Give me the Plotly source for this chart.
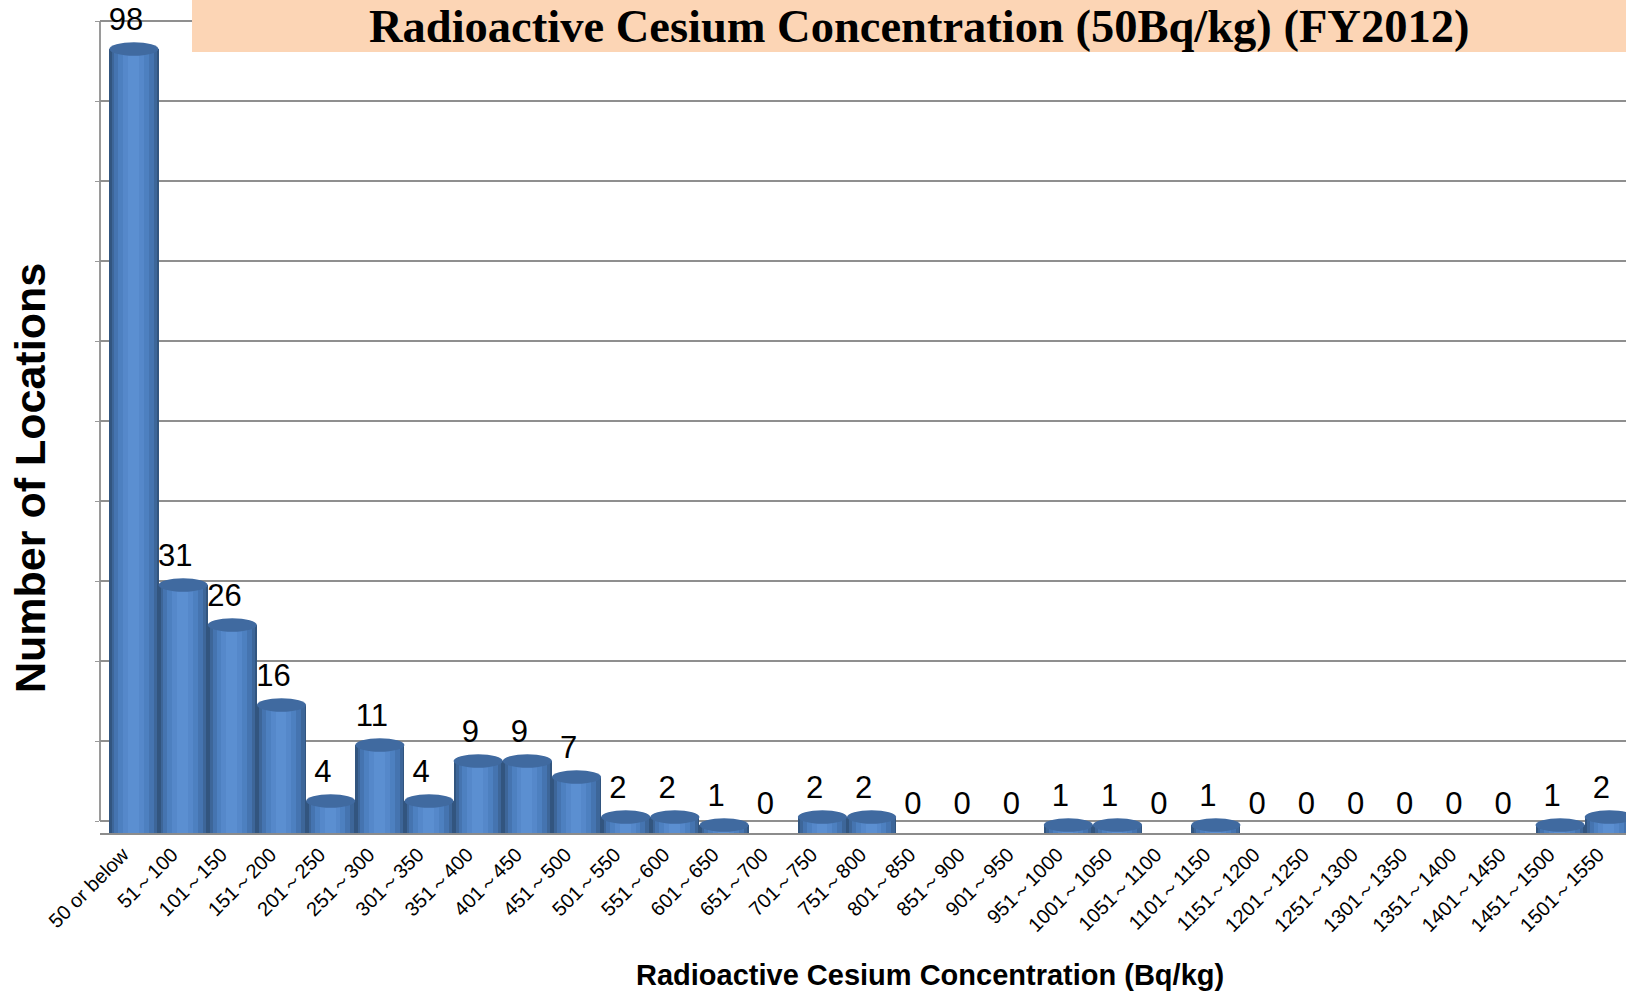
import plotly.graph_objects as go

categories = ["50 or below"] + [f"{a}～{a + 49}" for a in range(51, 1502, 50)]
counts = [98, 31, 26, 16, 4, 11, 4, 9, 9, 7,
          2, 2, 1, 0, 2, 2, 0, 0, 0, 1,
          1, 0, 1, 0, 0, 0, 0, 0, 0, 1,
          2]

title_text = "Radioactive Cesium Concentration (50Bq/kg) (FY2012)"
x_title = "Radioactive Cesium Concentration (Bq/kg)"
y_title = "Number of Locations"

SANS = "Liberation Sans, Arial, sans-serif"
SERIF = "Liberation Serif, Times New Roman, serif"

# the bars sit on a floor 1.5 units in front of / below the back wall
FLOOR = 1.5
SPAN = 104.125
X_RANGE = [-0.69, 30.34]
LABEL_SHIFT = 0.16  # value labels sit slightly left of the bar centres

pos = list(range(len(categories)))

fig = go.Figure()

# cylinder shading: overlaid bars of decreasing width
shades = [
    (1.00, -0.50, "#32557F"),
    (0.92, -0.45, "#3D6699"),
    (0.80, -0.40, "#4574B0"),
    (0.62, -0.32, "#4D80C0"),
    (0.42, -0.22, "#5588CA"),
    (0.22, -0.12, "#5B8FD1"),
]
for w, off, col in shades:
    fig.add_trace(go.Bar(
        x=pos, y=counts, width=w, offset=off,
        marker=dict(color=col, line=dict(width=0)),
        yaxis="y2", hoverinfo="skip", showlegend=False,
    ))

# value labels (on the wall axis: wall value = bar value - FLOOR)
fig.add_trace(go.Scatter(
    x=[p - LABEL_SHIFT for p in pos], y=[v - FLOOR + 3.4 for v in counts], mode="text",
    text=[str(v) for v in counts], textposition="middle center",
    textfont=dict(family=SANS, size=31, color="#000000"),
    yaxis="y", cliponaxis=False, hoverinfo="skip", showlegend=False,
))

shapes = []
# ellipse tops of the cylinders
for i, v in enumerate(counts):
    if v > 0:
        shapes.append(dict(
            type="circle", xref="x", yref="y2",
            x0=i - 0.5, x1=i + 0.5, y0=v - 0.85, y1=v + 0.85,
            fillcolor="#406AA0", line=dict(width=0), layer="above",
        ))
# title background box
shapes.append(dict(
    type="rect", xref="paper", yref="paper",
    x0=0.0603, x1=1.0, y0=0.9376, y1=1.0,
    fillcolor="#FCD5B5", line=dict(width=0), layer="above",
))

fig.update_layout(
    width=1626, height=992,
    margin=dict(l=100, r=0, t=0, b=159),
    paper_bgcolor="white", plot_bgcolor="white",
    barmode="overlay", bargap=0,
    shapes=shapes,
    xaxis=dict(
        range=X_RANGE, tickvals=pos, ticktext=categories,
        showline=True, linecolor="#8C8C8C", linewidth=2,
        showgrid=False, zeroline=False, ticks="", tickangle=-45,
        tickfont=dict(family=SANS, size=20, color="#000000"),
        ticklabelshift=-11,
    ),
    yaxis=dict(
        range=[-FLOOR, SPAN - FLOOR], tickvals=list(range(0, 101, 10)),
        showticklabels=False, showgrid=True, gridcolor="#8F8F8F", gridwidth=2,
        zeroline=False, showline=False,
        ticks="outside", ticklen=4, tickcolor="#9A9A9A",
    ),
    yaxis2=dict(
        overlaying="y", range=[0, SPAN], visible=False, showgrid=False,
    ),
    annotations=[
        dict(text=f"<b>{title_text}</b>", xref="paper", yref="paper", x=0.5366, y=0.968,
             xanchor="center", yanchor="middle", showarrow=False,
             font=dict(family=SERIF, size=46.5, color="#000000")),
        dict(text=f"<b>{x_title}</b>", xref="paper", yref="paper", x=0.544, y=-0.1705,
             xanchor="center", yanchor="middle", showarrow=False,
             font=dict(family=SANS, size=29, color="#000000")),
        dict(text=f"<b>{y_title}</b>", xref="paper", yref="paper", x=-0.046, y=0.426,
             xanchor="center", yanchor="middle", showarrow=False, textangle=-90,
             font=dict(family=SANS, size=43, color="#000000")),
    ],
)
# left wall line of the back plane
fig.add_shape(type="line", xref="paper", yref="y", x0=0, x1=0, y0=0, y1=100,
              line=dict(color="#9A9A9A", width=2), layer="below")

fig.write_html(
    "out.html",
    config={"displayModeBar": False},
    post_script="document.body.style.margin='0';document.body.style.overflow='hidden';",
)
